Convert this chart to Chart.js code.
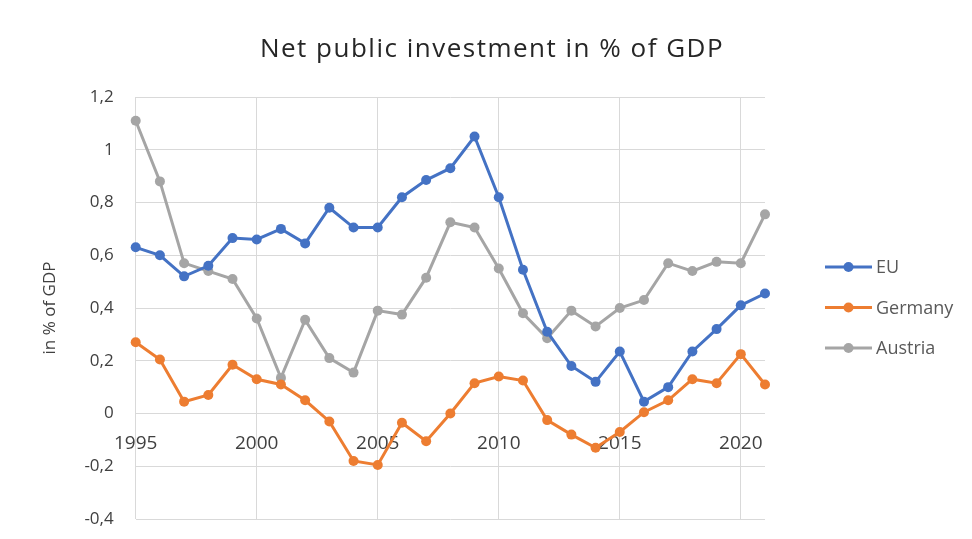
<!DOCTYPE html>
<html lang="en">
<head>
    <meta charset="UTF-8">
    <title>Net public investment in % of GDP</title>
    <script src="https://cdn.jsdelivr.net/npm/chart.js"></script>
    <style>
        body { margin: 0; background: #fff; }
        #wrap { width: 972px; height: 539px; }
    </style>
</head>
<body>
    <div id="wrap"><canvas id="invChart" width="972" height="539"></canvas></div>

    <script>
        const years = [1995, 1996, 1997, 1998, 1999, 2000, 2001, 2002, 2003, 2004, 2005, 2006, 2007, 2008,
                       2009, 2010, 2011, 2012, 2013, 2014, 2015, 2016, 2017, 2018, 2019, 2020, 2021];
        const euValues = [0.63, 0.60, 0.52, 0.56, 0.665, 0.66, 0.70, 0.645, 0.78, 0.705, 0.705, 0.82, 0.885, 0.93,
                          1.05, 0.82, 0.545, 0.31, 0.18, 0.12, 0.235, 0.045, 0.10, 0.235, 0.32, 0.41, 0.455];
        const germanyValues = [0.27, 0.205, 0.045, 0.07, 0.185, 0.13, 0.11, 0.05, -0.03, -0.18, -0.195, -0.035, -0.105, 0.0,
                               0.115, 0.14, 0.125, -0.025, -0.08, -0.13, -0.07, 0.005, 0.05, 0.13, 0.115, 0.225, 0.11];
        const austriaValues = [1.11, 0.88, 0.57, 0.54, 0.51, 0.36, 0.135, 0.355, 0.21, 0.155, 0.39, 0.375, 0.515, 0.725,
                               0.705, 0.55, 0.38, 0.285, 0.39, 0.33, 0.40, 0.43, 0.57, 0.54, 0.575, 0.57, 0.755];

        const seriesNames = ['EU', 'Germany', 'Austria'];
        const seriesColors = ['#4472C4', '#ED7D31', '#A5A5A5'];
        const seriesValues = [euValues, germanyValues, austriaValues];
        const chartTitle = 'Net public investment in % of GDP';

        const FONT = '"Open Sans", Lato, sans-serif';

        function fmt(v) {
            return String(Number(v.toFixed(1))).replace('.', ',');
        }

        // title + legend drawn by hand (office style: centered on the page, line-with-dot legend)
        const decor = {
            id: 'decor',
            afterDraw(chart) {
                const c = chart.ctx;
                const area = chart.chartArea;
                c.save();

                c.font = '26px ' + FONT;
                c.letterSpacing = '1.5px';
                c.fillStyle = '#262626';
                c.textAlign = 'center';
                c.textBaseline = 'middle';
                c.fillText(chartTitle, chart.width / 2 + 6, area.top - 47);
                c.letterSpacing = '0px';

                const x0 = area.right + 60;
                const yMid = (area.top + area.bottom) / 2;
                c.font = '18px ' + FONT;
                c.textAlign = 'left';
                chart.data.datasets.forEach((ds, i) => {
                    const y = yMid - 41 + i * 40.5;
                    c.strokeStyle = ds.borderColor;
                    c.lineWidth = 3;
                    c.beginPath();
                    c.moveTo(x0, y);
                    c.lineTo(x0 + 47, y);
                    c.stroke();
                    c.fillStyle = ds.borderColor;
                    c.beginPath();
                    c.arc(x0 + 23.5, y, 5, 0, Math.PI * 2);
                    c.fill();
                    c.fillStyle = '#595959';
                    c.fillText(ds.label, x0 + 51, y + 1);
                });
                c.restore();
            }
        };

        const ctx = document.getElementById('invChart').getContext('2d');
        const invChart = new Chart(ctx, {
            type: 'line',
            data: {
                datasets: seriesNames.map((name, i) => ({
                    label: name,
                    data: years.map((yr, k) => ({ x: yr, y: seriesValues[i][k] })),
                    borderColor: seriesColors[i],
                    backgroundColor: seriesColors[i],
                    borderWidth: 3,
                    pointRadius: 5,
                    pointBorderWidth: 0,
                    tension: 0,
                    clip: false
                }))
            },
            plugins: [decor],
            options: {
                responsive: false,
                animation: false,
                layout: { padding: { left: 40, right: 207, top: 97, bottom: 20 } },
                plugins: {
                    legend: { display: false },
                    tooltip: { enabled: false },
                    title: { display: false }
                },
                scales: {
                    x: {
                        type: 'linear',
                        min: 1995,
                        max: 2021,
                        position: { y: 0 },
                        // axis sits on the zero line, it should not eat space at the bottom
                        afterFit: (scale) => { scale.height = 0; },
                        grid: { color: '#d9d9d9', lineWidth: 1, drawTicks: false },
                        border: { display: false },
                        ticks: {
                            stepSize: 5,
                            includeBounds: false,
                            padding: 19,
                            color: '#404040',
                            font: { family: FONT, size: 19 },
                            maxRotation: 0,
                            callback: v => String(v)
                        }
                    },
                    y: {
                        min: -0.4,
                        max: 1.2,
                        // layout padding already leaves room for the end labels
                        afterFit: (scale) => { scale.paddingTop = 0; scale.paddingBottom = 0; },
                        grid: { color: '#d9d9d9', lineWidth: 1, drawTicks: false },
                        border: { display: false },
                        ticks: {
                            stepSize: 0.2,
                            padding: 22,
                            color: '#404040',
                            font: { family: FONT, size: 17 },
                            callback: v => fmt(v)
                        },
                        title: {
                            display: true,
                            text: 'in % of GDP',
                            color: '#404040',
                            font: { family: FONT, size: 17 },
                            padding: { top: 0, bottom: 2 }
                        }
                    }
                }
            }
        });
    </script>
</body>
</html>
